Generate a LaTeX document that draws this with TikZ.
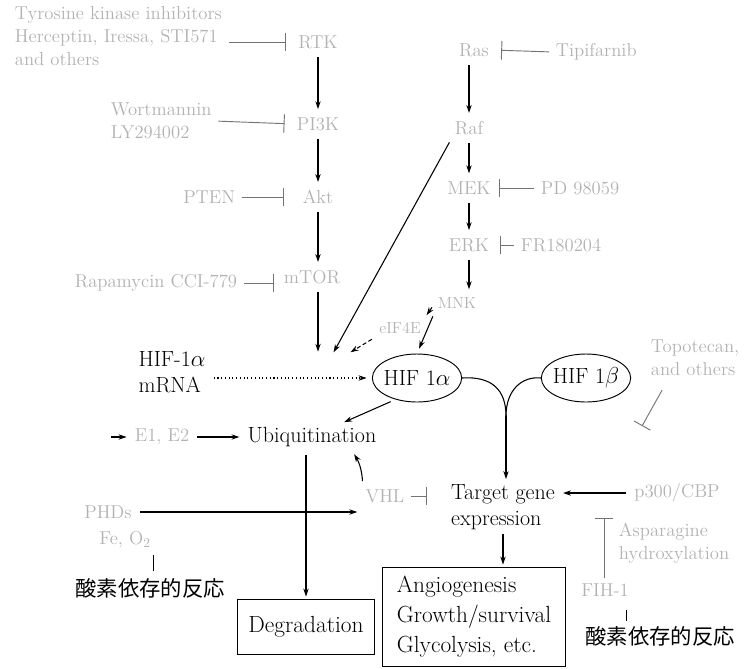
\documentclass[tikz,border=0pt]{standalone}
\usepackage{fontspec}
\usepackage{tikz}
\usetikzlibrary{positioning,arrows.meta,shapes.geometric}
\newfontfamily\jpfont{Noto Sans CJK JP}

\begin{document}
\begin{tikzpicture}[
  x=0.75pt, y=-0.75pt,
  lbl/.style={font=\fontsize{16.5}{19}\selectfont, inner sep=2pt},
  faint/.style={font=\fontsize{14}{17}\selectfont, text=black!30, inner sep=2pt},
  small/.style={faint, font=\fontsize{12}{14}\selectfont},
  jp/.style={font=\jpfont\fontsize{16}{19}\selectfont, inner sep=2pt},
  hif/.style={draw, ellipse, line width=0.7pt, inner sep=0pt, minimum width=67pt, minimum height=36pt, font=\fontsize{16.5}{19}\selectfont},
  outbox/.style={draw, line width=0.7pt, font=\fontsize{17.5}{22.5}\selectfont, inner sep=3pt},
  act/.style={-{Stealth[length=6pt,width=4pt]}, line width=0.8pt, shorten <=4pt, shorten >=4pt},
  dasharr/.style={act, densely dashed},
  dotarr/.style={act, dotted},
  inhib/.style={-{Bar[width=14pt]}, line width=0.7pt, draw=black!55, shorten <=3pt}
]
  \useasboundingbox (0,0) rectangle (748,668);

  % PI3K pathway (left column)
  \node[faint, align=left, anchor=north west] (tki) at (12,4) {Tyrosine kinase inhibitors\\Herceptin, Iressa, STI571\\and others};
  \node[faint] (rtk) at (318,42) {RTK};
  \node[faint] (pik) at (318,124) {PI3K};
  \node[faint] (akt) at (318,197) {Akt};
  \node[faint] (mtor) at (312,277) {mTOR};
  \node[faint, align=left, anchor=west] (wort) at (108,121) {Wortmannin\\LY294002};
  \node[faint, anchor=east] (pten) at (238,197) {PTEN};
  \node[faint, anchor=east] (rapa) at (240,283) {Rapamycin CCI-779};
  \coordinate (tr1) at (318,357);
  \draw[act] (rtk) -- (pik);
  \draw[act] (pik) -- (akt);
  \draw[act] (akt) -- (mtor.north -| akt);
  \draw[act] (tr1 |- mtor.south) -- (tr1);
  \draw[inhib, shorten >=7pt] (tki.east |- rtk) -- (rtk.west);
  \draw[inhib, shorten >=7pt] (wort.east) -- (pik.west);
  \draw[inhib, shorten >=12pt] (pten.east) -- (akt.west);
  \draw[inhib, shorten >=5pt] (rapa.east) -- (rapa.east -| mtor.west);

  % MAPK pathway (right column)
  \node[faint] (ras) at (474,50) {Ras};
  \node[faint] (raf) at (469,128) {Raf};
  \node[faint] (mek) at (469,188) {MEK};
  \node[faint] (erk) at (469,245) {ERK};
  \node[small] (mnk) at (457,303) {MNK};
  \node[small] (eif) at (400,328) {eIF4E};
  \node[faint, anchor=west] (tipi) at (553,52) {Tipifarnib};
  \node[faint, anchor=west] (pd) at (538,188) {PD 98059};
  \node[faint, anchor=west] (fr) at (518,245) {FR180204};
  \coordinate (tr2) at (331,357);
  \coordinate (tr3) at (346,355);
  \draw[act] (ras.south -| raf) -- (raf);
  \draw[act] (raf) -- (mek);
  \draw[act] (mek) -- (erk);
  \draw[act] (erk) -- (erk |- mnk.north);
  \draw[act] (raf.south west) -- (tr2);
  \draw[dasharr] (mnk.west) -- (eif.north east);
  \draw[dasharr] (eif.south west) -- (tr3);
  \draw[inhib, shorten >=7pt] (tipi.west) -- (ras.east);
  \draw[inhib, shorten >=4pt] (pd.west) -- (mek.east);
  \draw[inhib, shorten >=6pt] (fr.west) -- (erk.east);

  % HIF-1 and its fate
  \node[lbl, align=left] (mrna) at (172,372) {HIF-1$\alpha$\\mRNA};
  \node[hif] (hifa) at (417,378) {\makebox[40pt]{HIF 1$\alpha$}};
  \node[hif] (hifb) at (586,378) {\makebox[40pt]{HIF 1$\beta$}};
  \coordinate (junc) at (506,416);
  \node[lbl, align=left] (target) at (503,507) {Target gene\\expression};
  \node[lbl] (ubq) at (312,437) {Ubiquitination};
  \node[faint] (e12) at (162,437) {E1, E2};
  \coordinate (ubin) at (106,437);
  \node[faint] (vhl) at (385,496) {VHL};
  \node[faint] (phd) at (108,512) {PHDs};
  \node[faint] (fe) at (125,540) {Fe, O$_2$};
  \node[jp] (jp1) at (150,588) {酸素依存的反応};
  \node[faint] (p300) at (677,493) {p300/CBP};
  \node[faint] (fih) at (605,590) {FIH-1};
  \node[faint, align=left, anchor=west] (asn) at (616,543) {Asparagine\\hydroxylation};
  \node[jp] (jp2) at (660,636) {酸素依存的反応};
  \node[faint, align=left, anchor=west] (topo) at (648,358) {Topotecan,\\and others};
  \coordinate (topoend) at (642,426);
  \coordinate (fihend) at (604,518);
  \node[outbox, minimum width=103pt, minimum height=41pt] (degr) at (306,627) {Degradation};
  \node[outbox, align=left, minimum width=137pt, minimum height=74pt] (effect) at (474,617) {Angiogenesis\\Growth/survival\\Glycolysis, etc.};

  \draw[act] (mnk.south west) -- (hifa.north);
  \draw[dotarr] (mrna.east |- hifa) -- (hifa.west);
  \draw[line width=0.8pt] (hifa.east) .. controls (492,376) and (506,390) .. (junc);
  \draw[line width=0.8pt] (hifb.west) .. controls (522,376) and (506,390) .. (junc);
  \draw[act, shorten <=0pt, shorten >=2pt] (junc) -- (target.north -| junc);
  \draw[act] (hifa.-135) -- ([xshift=-30pt]ubq.north east);
  \draw[act] (ubin) -- (e12);
  \draw[act] (e12) -- (ubq);
  \draw[act, shorten >=2pt] (degr.north |- ubq.south) -- (degr.north);
  \draw[act] (phd) -- (phd -| vhl.west);
  \draw[act] (vhl.north west) to[bend right=15] ([xshift=-21pt]ubq.south east);
  \draw[inhib, shorten >=16pt] (vhl.east) -- (vhl.east -| target.west);
  \draw[act] (p300.west) -- (p300.west -| target.east);
  \draw[act, shorten <=1pt, shorten >=2pt] (target.south) -- (target.south |- effect.north);
  \draw[inhib, shorten <=2pt] (fih.north -| fihend) -- (fihend);
  \draw[inhib] ([xshift=12pt,yshift=-6pt]topo.south west) -- (topoend);
  \draw[line width=0.7pt, shorten <=3pt, shorten >=3pt] (jp1.north -| fe.east) -- (fe.south east);
  \draw[line width=0.7pt, shorten <=2pt, shorten >=8pt] ([xshift=-25pt]jp2.north) -- ([xshift=-25pt]jp2.north |- fih.south);
\end{tikzpicture}
\end{document}
